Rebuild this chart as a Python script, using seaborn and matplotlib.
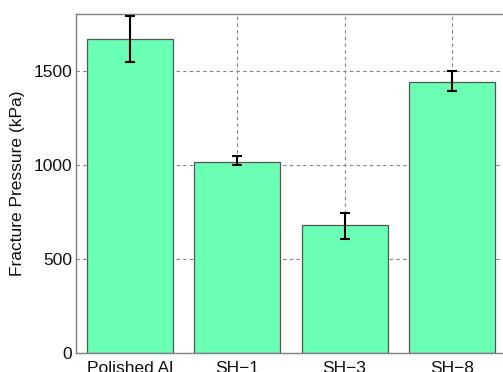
import matplotlib
matplotlib.use("Agg")
import matplotlib.pyplot as plt
import seaborn as sns
import numpy as np

# Fracture pressure per surface treatment (kPa)
categories = ["Polished Al", "SH\u22121", "SH\u22123", "SH\u22128"]
mean_kpa = [1667, 1012, 679, 1437]
err_low = [121, 11, 72, 45]
err_high = [121, 34, 66, 60]
y_ticks = [0, 500, 1000, 1500]

sns.set_theme(style="white")
plt.rcParams["font.family"] = ["Liberation Sans", "DejaVu Sans"]

fig = plt.figure(figsize=(5.03, 3.72), dpi=100)
ax = fig.add_axes([0.152, 0.051, 0.853, 0.911])

bar_color = "#69FFB4"
sns.barplot(x=categories, y=mean_kpa, color=bar_color, edgecolor="#555555",
            linewidth=0.9, width=0.8, saturation=1, ax=ax, zorder=2)

pos = np.arange(len(categories))
ax.errorbar(pos, mean_kpa, yerr=[err_low, err_high], fmt="none",
            ecolor="black", elinewidth=1.5, capsize=3.5, capthick=1.5, zorder=3)

ax.set_xlim(-0.5, 3.5)
ax.set_ylim(0, 1800)
ax.set_yticks(y_ticks)
ax.set_ylabel("Fracture Pressure (kPa)", fontsize=12.5, color="#111111", labelpad=6)
ax.set_xlabel("")

ax.grid(True, linestyle=(0, (3, 3)), color="#808080", linewidth=0.8)
ax.set_axisbelow(True)

for s in ax.spines.values():
    s.set_color("#808080")
    s.set_linewidth(1.0)

ax.tick_params(axis="both", labelsize=12.5, colors="#111111", length=3,
               direction="in")
ax.tick_params(axis="both", color="#808080")
ax.tick_params(axis="x", pad=6)
ax.tick_params(axis="y", pad=3)

fig.savefig("out.png", dpi=100)
